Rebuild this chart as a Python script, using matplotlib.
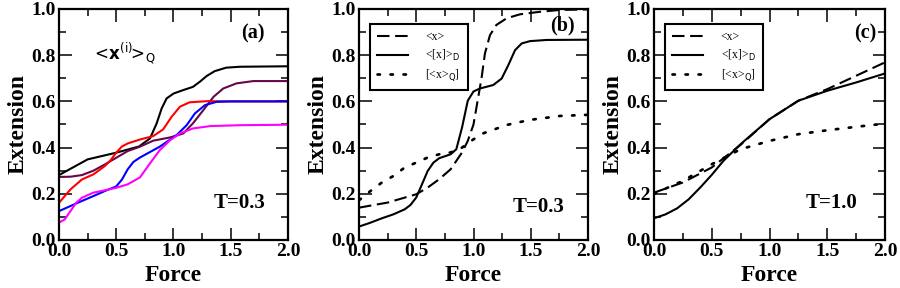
import matplotlib
matplotlib.use("Agg")
import matplotlib.pyplot as plt
from matplotlib.ticker import MultipleLocator

plt.rcParams['font.family'] = ['Liberation Serif', 'DejaVu Serif']
plt.rcParams['mathtext.fontset'] = 'dejavusans'

# ---------------- Panel (a): <x^(i)>_Q, T=0.3 ----------------
fa_black = [0.0, 0.25, 0.5, 0.7, 0.795, 0.853, 0.897, 0.94, 1.0, 1.085, 1.17, 1.23, 1.29, 1.36, 1.46, 1.58, 2.0]
ya_black = [0.281, 0.349, 0.378, 0.405, 0.44, 0.505, 0.57, 0.613, 0.634, 0.649, 0.663, 0.685, 0.71, 0.731, 0.746, 0.75, 0.752]

fa_red = [0.0, 0.1, 0.2, 0.3, 0.4, 0.45, 0.5, 0.55, 0.6, 0.707, 0.823, 0.91, 0.983, 1.056, 1.14, 1.29, 1.5, 2.0]
ya_red = [0.161, 0.219, 0.262, 0.284, 0.32, 0.345, 0.378, 0.405, 0.418, 0.435, 0.45, 0.479, 0.533, 0.577, 0.596, 0.601, 0.6, 0.6]

fa_blue = [0.0, 0.1, 0.2, 0.3, 0.4, 0.5, 0.55, 0.6, 0.65, 0.707, 0.88, 1.027, 1.115, 1.187, 1.275, 1.376, 1.5, 2.0]
ya_blue = [0.125, 0.147, 0.169, 0.19, 0.212, 0.232, 0.262, 0.306, 0.338, 0.357, 0.404, 0.454, 0.497, 0.548, 0.584, 0.598, 0.6, 0.6]

fa_mag = [0.0, 0.05, 0.1, 0.15, 0.2, 0.3, 0.4, 0.5, 0.6, 0.707, 0.795, 0.88, 0.97, 1.056, 1.17, 1.32, 1.58, 2.0]
ya_mag = [0.075, 0.089, 0.125, 0.161, 0.183, 0.205, 0.215, 0.226, 0.241, 0.271, 0.332, 0.389, 0.432, 0.461, 0.483, 0.493, 0.497, 0.499]

fa_maroon = [0.0, 0.1, 0.2, 0.3, 0.4, 0.5, 0.6, 0.707, 0.823, 0.97, 1.085, 1.17, 1.26, 1.35, 1.435, 1.55, 1.697, 2.0]
ya_maroon = [0.273, 0.274, 0.281, 0.3, 0.327, 0.356, 0.385, 0.404, 0.43, 0.444, 0.461, 0.505, 0.562, 0.62, 0.656, 0.678, 0.688, 0.688]

# ---------------- Panel (b): T=0.3 ----------------
fb_mean = [0.0, 0.25, 0.5, 0.6, 0.7, 0.8, 0.9, 0.95, 1.0, 1.035, 1.07, 1.1, 1.144, 1.2, 1.29, 1.406, 1.58, 1.756, 2.0]
yb_mean = [0.14, 0.162, 0.198, 0.227, 0.263, 0.306, 0.379, 0.429, 0.5, 0.6, 0.70, 0.808, 0.887, 0.931, 0.96, 0.977, 0.988, 0.996, 0.998]

fb_D = [0.0, 0.1, 0.2, 0.3, 0.4, 0.45, 0.5, 0.55, 0.6, 0.65, 0.7, 0.8, 0.85, 0.9, 0.95, 1.0, 1.057, 1.173, 1.246, 1.304, 1.363, 1.421, 1.494, 1.64, 2.0]
yb_D = [0.058, 0.075, 0.094, 0.111, 0.133, 0.152, 0.184, 0.241, 0.299, 0.335, 0.354, 0.371, 0.393, 0.487, 0.603, 0.643, 0.656, 0.671, 0.699, 0.757, 0.822, 0.851, 0.861, 0.866, 0.867]

fb_Q = [0.0, 0.1, 0.2, 0.3, 0.4, 0.5, 0.6, 0.7, 0.8, 0.9, 1.0, 1.086, 1.2, 1.29, 1.4, 1.494, 1.756, 2.0]
yb_Q = [0.172, 0.212, 0.249, 0.277, 0.314, 0.335, 0.357, 0.371, 0.379, 0.4, 0.436, 0.462, 0.482, 0.498, 0.51, 0.52, 0.537, 0.542]

# ---------------- Panel (c): T=1.0 ----------------
fc_mean = [0.0, 0.25, 0.5, 0.75, 1.0, 1.25, 1.5, 1.75, 2.0]
yc_mean = [0.205, 0.249, 0.314, 0.412, 0.523, 0.603, 0.653, 0.711, 0.769]

fc_D = [0.0, 0.1, 0.2, 0.3, 0.4, 0.5, 0.6, 0.75, 1.0, 1.25, 1.5, 1.75, 2.0]
yc_D = [0.094, 0.111, 0.137, 0.176, 0.227, 0.282, 0.342, 0.415, 0.523, 0.603, 0.646, 0.682, 0.721]

fc_Q = [0.0, 0.25, 0.5, 0.75, 1.0, 1.25, 1.5, 1.75, 2.0]
yc_Q = [0.2, 0.256, 0.328, 0.393, 0.429, 0.458, 0.475, 0.49, 0.504]

legend_labels = ['<x>', '<[x]>$_{\\mathrm{D}}$', '[<x>$_{\\mathrm{Q}}$]']

fig = plt.figure(figsize=(9, 2.88), dpi=100)
W, H = 900, 288
boxes = [(59, 9, 229, 231), (359, 9, 229, 231), (654, 9, 231, 231)]
axes = []
for (l, t, w, h) in boxes:
    ax = fig.add_axes([l / W, (H - t - h) / H, w / W, h / H])
    axes.append(ax)

LW = 1.5
dash = (0, (6, 2.7))
dot = (0, (0.9, 3.9))

ax = axes[0]
ax.plot(fa_black, ya_black, color='black', lw=LW)
ax.plot(fa_maroon, ya_maroon, color='#670748', lw=LW)
ax.plot(fa_red, ya_red, color='#ff0000', lw=LW)
ax.plot(fa_blue, ya_blue, color='#0000ff', lw=LW)
ax.plot(fa_mag, ya_mag, color='#ff00ff', lw=LW)
ax.text(0.14, 0.81, r'$<\!\mathbf{x}^{(\mathrm{i})}\!\!>_{\!\mathrm{Q}}$', transform=ax.transAxes,
        fontsize=12, ha='left', va='center')
ax.text(0.845, 0.895, '(a)', transform=ax.transAxes, fontsize=14.5, fontweight='bold', ha='center', va='center')
ax.text(0.79, 0.16, 'T=0.3', transform=ax.transAxes, fontsize=15, fontweight='bold', ha='center', va='center')

specs = [
    (axes[1], (fb_mean, yb_mean, fb_D, yb_D, fb_Q, yb_Q), '(b)', (0.89, 0.93), 'T=0.3', (0.786, 0.143)),
    (axes[2], (fc_mean, yc_mean, fc_D, yc_D, fc_Q, yc_Q), '(c)', (0.913, 0.896), 'T=1.0', (0.77, 0.16)),
]
for ax, (fm, ym, fd, yd, fq, yq), lab, lpos, tt, tpos in specs:
    l1, = ax.plot(fm, ym, color='black', lw=LW, linestyle=dash)
    l2, = ax.plot(fd, yd, color='black', lw=LW)
    l3, = ax.plot(fq, yq, color='black', lw=LW * 1.3, linestyle=dot, dash_capstyle='round')
    leg = ax.legend([l1, l2, l3], legend_labels, loc='upper left', bbox_to_anchor=(0.048, 0.935),
                    handlelength=2.6, handletextpad=1.5, borderpad=0.6,
                    labelspacing=0.4, fancybox=False, framealpha=1, edgecolor='black',
                    borderaxespad=0, prop={'family': ['Liberation Serif'], 'size': 8.5})
    leg.get_frame().set_linewidth(1.5)
    ax.text(lpos[0], lpos[1], lab, transform=ax.transAxes, fontsize=14.5,
            fontweight='bold', ha='center', va='center')
    ax.text(tpos[0], tpos[1], tt, transform=ax.transAxes, fontsize=15,
            fontweight='bold', ha='center', va='center')

for ax in axes:
    ax.set_xlim(0, 2)
    ax.set_ylim(0, 1)
    ax.xaxis.set_major_locator(MultipleLocator(0.5))
    ax.xaxis.set_minor_locator(MultipleLocator(0.25))
    ax.yaxis.set_major_locator(MultipleLocator(0.2))
    ax.yaxis.set_minor_locator(MultipleLocator(0.1))
    ax.tick_params(which='both', direction='in', top=True, right=True, width=1.1)
    ax.tick_params(which='major', length=9, labelsize=14, pad=2.5)
    ax.tick_params(which='minor', length=5)
    ax.set_xticklabels([f'{v:.1f}' for v in ax.get_xticks()], fontweight='bold')
    ax.set_yticklabels([f'{v:.1f}' for v in ax.get_yticks()], fontweight='bold')
    for s in ax.spines.values():
        s.set_linewidth(1.6)
    ax.set_xlabel('Force', fontsize=17, fontweight='bold', labelpad=3)
    ax.set_ylabel('Extension', fontsize=17, fontweight='bold', labelpad=2)

fig.savefig('out.png', dpi=100)
